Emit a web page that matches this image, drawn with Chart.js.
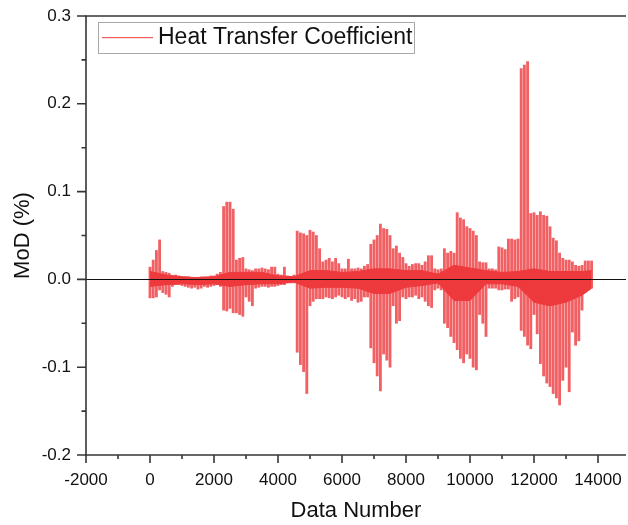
<!DOCTYPE html>
<html>
<head>
<meta charset="utf-8">
<script src="https://cdn.jsdelivr.net/npm/chart.js@4.4.0/dist/chart.umd.min.js"></script>
<style>
html,body{margin:0;padding:0;background:#fff;}
#wrap{width:628px;height:525px;}
</style>
</head>
<body>
<div id="wrap"><canvas id="c" width="628" height="525"></canvas></div>
<script>
// Data number (x) for each sampled record
const dataNumber = [0,100,200,300,400,500,600,700,800,900,1000,1100,1200,1300,1400,1500,1600,1700,1800,1900,
2000,2100,2200,2300,2400,2500,2600,2700,2800,2900,3000,3100,3200,3300,3400,3500,3600,3700,3800,3900,
4000,4100,4200,4300,4400,4500,4600,4700,4800,4900,5000,5100,5200,5300,5400,5500,5600,5700,5800,5900,
6000,6100,6200,6300,6400,6500,6600,6700,6800,6900,7000,7100,7200,7300,7400,7500,7600,7700,7800,7900,
8000,8100,8200,8300,8400,8500,8600,8700,8800,8900,9000,9100,9200,9300,9400,9500,9600,9700,9800,9900,
10000,10100,10200,10300,10400,10500,10600,10700,10800,10900,11000,11100,11200,11300,11400,11500,11600,11700,11800,11900,
12000,12100,12200,12300,12400,12500,12600,12700,12800,12900,13000,13100,13200,13300,13400,13500,13600,13700,13800];

// Upper extent of MoD (%) around each data number
const mocHigh = [0.014,0.022,0.033,0.045,0.009,0.008,0.007,0.004,0.005,0.004,
0.003,0.003,0.003,0.002,0.002,0.002,0.003,0.003,0.003,0.004,
0.004,0.006,0.008,0.083,0.088,0.088,0.080,0.022,0.024,0.025,
0.012,0.011,0.010,0.012,0.012,0.013,0.012,0.011,0.014,0.014,
0.006,0.005,0.014,0.004,0.003,0.005,0.055,0.053,0.052,0.050,
0.056,0.054,0.050,0.035,0.020,0.022,0.024,0.020,0.024,0.018,
0.012,0.012,0.023,0.012,0.012,0.013,0.012,0.015,0.017,0.040,
0.045,0.050,0.063,0.058,0.057,0.050,0.035,0.038,0.030,0.025,
0.018,0.015,0.017,0.018,0.018,0.016,0.020,0.027,0.027,0.012,
0.011,0.012,0.035,0.030,0.032,0.030,0.076,0.070,0.068,0.060,
0.058,0.055,0.050,0.020,0.019,0.019,0.012,0.012,0.011,0.037,
0.036,0.034,0.046,0.046,0.045,0.046,0.240,0.244,0.248,0.075,
0.076,0.073,0.077,0.073,0.072,0.060,0.047,0.044,0.030,0.024,
0.022,0.022,0.020,0.016,0.015,0.016,0.021,0.021,0.021];

// Lower extent of MoD (%) around each data number
const mocLow = [-0.021,-0.021,-0.020,-0.012,-0.015,-0.017,-0.020,-0.008,-0.006,-0.006,
-0.007,-0.008,-0.009,-0.010,-0.009,-0.011,-0.010,-0.008,-0.009,-0.008,
-0.007,-0.006,-0.008,-0.035,-0.036,-0.033,-0.038,-0.038,-0.040,-0.042,
-0.020,-0.025,-0.030,-0.010,-0.009,-0.008,-0.008,-0.009,-0.008,-0.008,
-0.007,-0.006,-0.006,-0.004,-0.004,-0.004,-0.083,-0.097,-0.105,-0.130,
-0.030,-0.025,-0.022,-0.022,-0.022,-0.020,-0.021,-0.022,-0.020,-0.018,
-0.020,-0.022,-0.020,-0.024,-0.022,-0.026,-0.025,-0.020,-0.020,-0.078,
-0.095,-0.110,-0.127,-0.085,-0.092,-0.100,-0.030,-0.050,-0.047,-0.020,
-0.022,-0.020,-0.020,-0.018,-0.022,-0.020,-0.025,-0.030,-0.032,-0.012,
-0.010,-0.012,-0.050,-0.055,-0.065,-0.072,-0.080,-0.090,-0.095,-0.085,
-0.090,-0.100,-0.103,-0.040,-0.050,-0.065,-0.010,-0.010,-0.010,-0.012,
-0.012,-0.011,-0.011,-0.025,-0.022,-0.020,-0.058,-0.065,-0.075,-0.079,
-0.040,-0.062,-0.096,-0.110,-0.118,-0.122,-0.130,-0.135,-0.143,-0.115,
-0.100,-0.128,-0.060,-0.075,-0.070,-0.035,-0.015,-0.012,-0.010];

// Dense core band of the signal (where the trace is solid), read every 500 records
const coreNumber = [0,500,1000,1500,2000,2500,3000,3500,4000,4500,5000,5500,6000,6500,7000,
7500,8000,8500,9000,9500,10000,10500,11000,11500,12000,12500,13000,13500,13800];
const coreHigh = [0.009,0.005,0.003,0.002,0.003,0.008,0.008,0.008,0.004,0.003,0.010,0.010,0.008,0.009,0.012,
0.012,0.010,0.010,0.006,0.016,0.013,0.010,0.008,0.009,0.012,0.009,0.009,0.009,0.010];
const coreLow = [-0.008,-0.006,-0.005,-0.006,-0.005,-0.008,-0.006,-0.005,-0.005,-0.003,-0.010,-0.009,-0.009,-0.010,-0.016,
-0.016,-0.009,-0.007,-0.004,-0.024,-0.024,-0.005,-0.005,-0.008,-0.026,-0.030,-0.026,-0.018,-0.010];

const xTicks = [-2000,0,2000,4000,6000,8000,10000,12000,14000];
const xMinorTicks = [-1000,1000,3000,5000,7000,9000,11000,13000];
const yTicks = [-0.2,-0.1,0.0,0.1,0.2,0.3];
const yMinorTicks = [-0.15,-0.05,0.05,0.15,0.25];

const seriesName = 'Heat Transfer Coefficient';
const FONT = "'Liberation Sans', Arial, Helvetica, sans-serif";
const RED = '#ee3a3d';
const AXIS = '#363636';

const spikePoints = dataNumber.map((x, i) => ({x: x, y: [mocLow[i], mocHigh[i]]}));
const coreHiPts = coreNumber.map((x, i) => ({x: x, y: coreHigh[i]}));
const coreLoPts = coreNumber.map((x, i) => ({x: x, y: coreLow[i]}));

const framePlugin = {
  id: 'frame',
  afterDraw(chart) {
    const {ctx, chartArea: {left, right, top, bottom}, scales: {x, y}} = chart;
    ctx.save();
    const y0 = Math.round(y.getPixelForValue(0)) + 0.5;
    ctx.strokeStyle = '#111';
    ctx.lineWidth = 1;
    ctx.beginPath(); ctx.moveTo(left, y0); ctx.lineTo(right, y0); ctx.stroke();

    ctx.strokeStyle = AXIS;
    ctx.lineWidth = 1.6;
    ctx.beginPath();
    ctx.moveTo(left, top); ctx.lineTo(left, bottom);
    ctx.moveTo(left - 1, bottom); ctx.lineTo(right, bottom);
    ctx.moveTo(left - 1, top); ctx.lineTo(right, top);
    ctx.stroke();

    ctx.beginPath();
    yTicks.forEach(v => { const p = y.getPixelForValue(v); ctx.moveTo(left - 9, p); ctx.lineTo(left, p); });
    yMinorTicks.forEach(v => { const p = y.getPixelForValue(v); ctx.moveTo(left - 4.5, p); ctx.lineTo(left, p); });
    xTicks.forEach(v => { const p = x.getPixelForValue(v); ctx.moveTo(p, bottom); ctx.lineTo(p, bottom + 8); });
    xMinorTicks.forEach(v => { const p = x.getPixelForValue(v); ctx.moveTo(p, bottom); ctx.lineTo(p, bottom + 4); });
    ctx.stroke();

    // legend
    ctx.fillStyle = '#ffffff';
    ctx.fillRect(98, 22.5, 316, 31);
    ctx.strokeStyle = '#a8a8a8';
    ctx.lineWidth = 1;
    ctx.strokeRect(98.5, 22.5, 316, 31);
    ctx.fillStyle = '#f05a5a';
    ctx.fillRect(102, 37, 51, 1.2);
    ctx.fillStyle = '#111';
    ctx.font = '23px ' + FONT;
    ctx.textBaseline = 'middle';
    ctx.textAlign = 'left';
    ctx.fillText(seriesName, 158, 38);
    ctx.restore();
  }
};

new Chart(document.getElementById('c'), {
  type: 'bar',
  data: {
    datasets: [
      {
        type: 'line',
        label: 'coreHigh',
        data: coreHiPts,
        borderColor: RED,
        borderWidth: 1,
        pointRadius: 0,
        tension: 0,
        fill: false,
        order: 2
      },
      {
        type: 'line',
        label: 'coreLow',
        data: coreLoPts,
        borderColor: RED,
        backgroundColor: RED,
        borderWidth: 1,
        pointRadius: 0,
        tension: 0,
        fill: '-1',
        order: 2
      },
      {
        type: 'bar',
        label: seriesName,
        data: spikePoints,
        backgroundColor: 'rgba(238,58,61,0.8)',
        borderWidth: 0,
        barThickness: 2.2,
        order: 1
      }
    ]
  },
  options: {
    responsive: false,
    animation: false,
    devicePixelRatio: 1,
    layout: {padding: {top: 16, right: 2, left: 0, bottom: 0}},
    plugins: {legend: {display: false}, tooltip: {enabled: false}},
    scales: {
      x: {
        type: 'linear',
        offset: false,
        min: -2000,
        max: 14875,
        afterFit(s) { s.height = 70; s.paddingLeft = 0; s.paddingRight = 0; },
        afterBuildTicks(s) { s.ticks = xTicks.map(v => ({value: v})); },
        grid: {display: false, drawTicks: false, offset: false},
        border: {display: false},
        ticks: {
          autoSkip: false, maxRotation: 0, padding: 15,
          color: '#111', font: {family: FONT, size: 17},
          callback: v => String(v)
        },
        title: {display: true, text: 'Data Number', color: '#111',
          font: {family: FONT, size: 22}, padding: {top: 0, bottom: 1}}
      },
      y: {
        type: 'linear',
        min: -0.2,
        max: 0.3,
        afterFit(s) { s.width = 86; s.paddingTop = 0; s.paddingBottom = 0; },
        afterBuildTicks(s) { s.ticks = yTicks.map(v => ({value: v})); },
        grid: {display: false, drawTicks: false},
        border: {display: false},
        ticks: {
          padding: 15,
          color: '#111', font: {family: FONT, size: 17},
          callback: v => Number(v).toFixed(1)
        },
        title: {display: true, text: 'MoD (%)', color: '#111',
          font: {family: FONT, size: 22}, padding: {top: 10, bottom: 0}}
      }
    }
  },
  plugins: [framePlugin]
});
</script>
</body>
</html>
